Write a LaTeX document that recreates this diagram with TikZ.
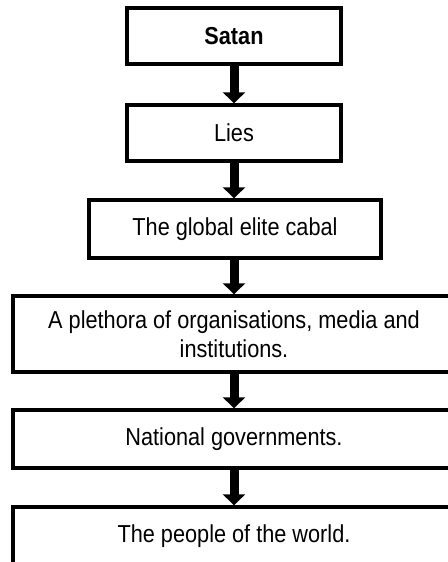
\documentclass[tikz,border=0pt]{standalone}
\usepackage{fontspec}
\usepackage{graphicx}
\setmainfont{Liberation Sans}
\usetikzlibrary{arrows.meta}
\newcommand{\vtxt}[1]{\scalebox{1}[1.13]{#1}}
\begin{document}
\begin{tikzpicture}[x=1pt,y=1pt,
  box/.style={draw=black, line width=3.4pt, fill=white, align=center, inner sep=0pt,
    font=\fontsize{21.7}{30}\selectfont},
  flow/.style={line width=9pt, -{Triangle[width=22pt,length=11pt]}, shorten <=-1pt}
]
\useasboundingbox (0,0) rectangle (447,-562);
\node[box, minimum width=214, minimum height=56] (satan) at (234,-36) {\vtxt{\textbf{Satan}}};
\node[box, minimum width=214, minimum height=56] (lies) at (234,-133) {\vtxt{Lies}};
\node[box, minimum width=292, minimum height=58] (cabal) at (235,-229) {\vtxt{The global elite cabal}};
\node[box, minimum width=442, minimum height=76] (orgs) at (234,-334) {\vtxt{A plethora of organisations, media and}\\[-1pt]\vtxt{institutions.}};
\node[box, minimum width=442, minimum height=58] (gov) at (234,-439) {\vtxt{National governments.}};
\node[box, minimum width=442, minimum height=58] (people) at (234,-536) {\vtxt{The people of the world.}};
\draw[flow] (satan.south) -- (lies.north);
\draw[flow] (lies.south) -- (cabal.north -| lies.south);
\draw[flow] (cabal.south -| lies.south) -- (orgs.north -| lies.south);
\draw[flow] (orgs.south -| lies.south) -- (gov.north -| lies.south);
\draw[flow] (gov.south -| lies.south) -- (people.north -| lies.south);
\end{tikzpicture}
\end{document}
